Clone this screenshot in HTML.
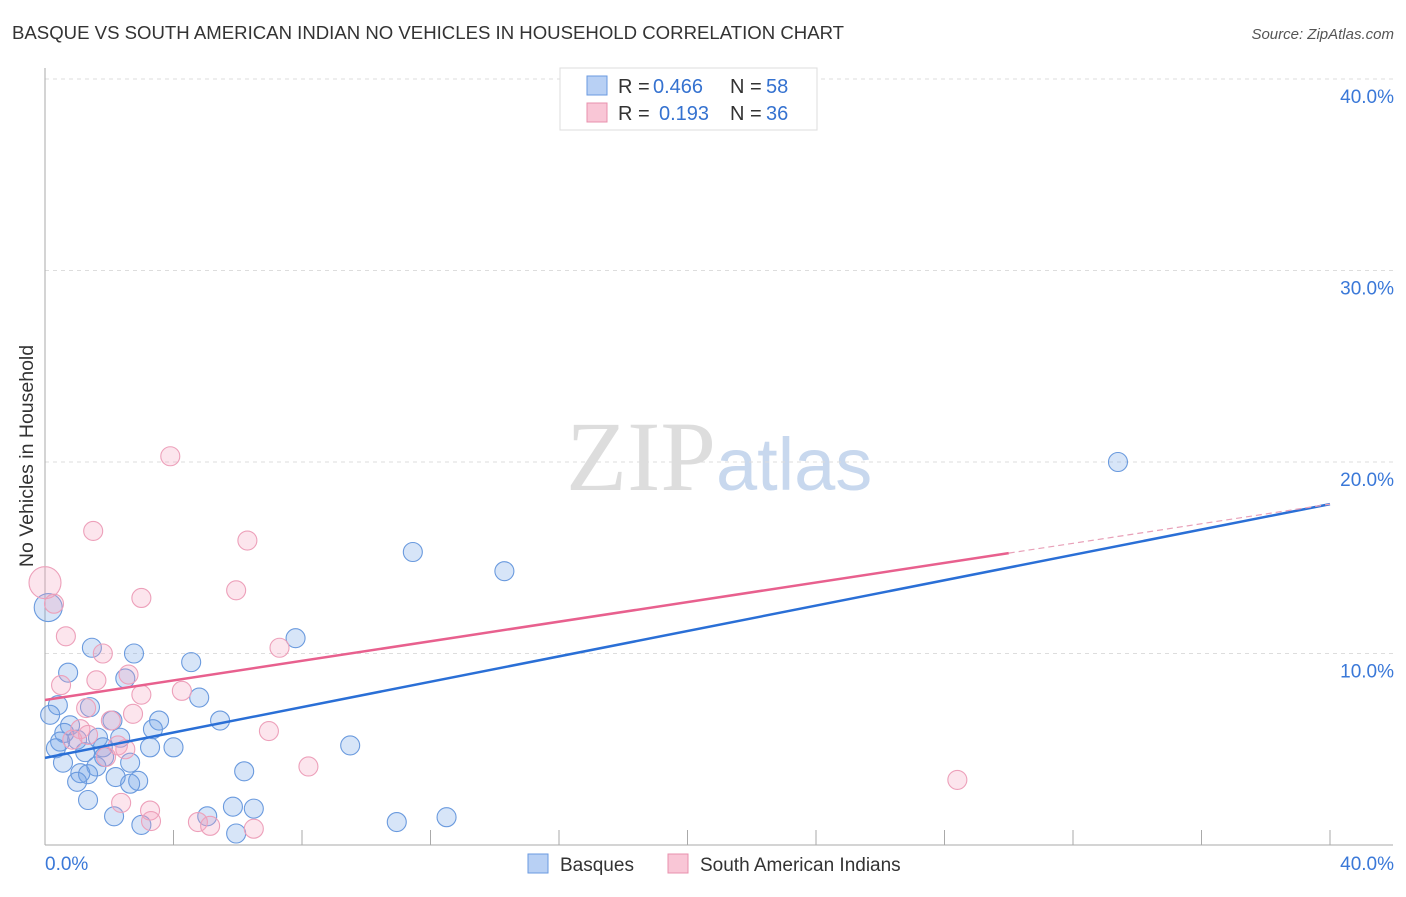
<!DOCTYPE html>
<html><head><meta charset="utf-8"><style>
body{margin:0;background:#fff;font-family:"Liberation Sans",sans-serif}
</style></head><body>
<svg width="1406" height="892" xmlns="http://www.w3.org/2000/svg" font-family="Liberation Sans, sans-serif">
<text x="12" y="39" font-size="18.6" fill="#333">BASQUE VS SOUTH AMERICAN INDIAN NO VEHICLES IN HOUSEHOLD CORRELATION CHART</text>
<text x="1394" y="39" font-size="15" fill="#555" font-style="italic" text-anchor="end">Source: ZipAtlas.com</text>
<text x="716" y="490" font-size="100" fill="#ddd" text-anchor="end" font-family="Liberation Serif, serif">ZIP</text>
<text x="716" y="490" font-size="74" fill="#c8d8ee">atlas</text>
<g id="grid"></g><g id="pts"></g><g id="lines"></g>
<text x="33" y="456" font-size="19.5" fill="#333" transform="rotate(-90 33 456)" text-anchor="middle">No Vehicles in Household</text>
<g>
<rect x="560" y="68" width="257" height="62" fill="#fff" stroke="#ddd"/>
<rect x="587" y="76" width="20" height="19" fill="#b8d0f4" stroke="#6a9ae0"/>
<rect x="587" y="103" width="20" height="19" fill="#f9c6d6" stroke="#e890ad"/>
<text x="618" y="93" font-size="20" fill="#333">R =</text><text x="653" y="93" font-size="20" fill="#3572d0">0.466</text>
<text x="730" y="93" font-size="20" fill="#333">N =</text><text x="766" y="93" font-size="20" fill="#3572d0">58</text>
<text x="618" y="120" font-size="20" fill="#333">R =</text><text x="659" y="120" font-size="20" fill="#3572d0">0.193</text>
<text x="730" y="120" font-size="20" fill="#333">N =</text><text x="766" y="120" font-size="20" fill="#3572d0">36</text>
</g>
<g>
<rect x="528" y="854" width="20" height="19" fill="#b8d0f4" stroke="#6a9ae0"/>
<text x="560" y="871" font-size="19" fill="#333">Basques</text>
<rect x="668" y="854" width="20" height="19" fill="#f9c6d6" stroke="#e890ad"/>
<text x="700" y="871" font-size="19" fill="#333">South American Indians</text>
</g>
<text x="45" y="870" font-size="19" fill="#3a78d8">0.0%</text>
<text x="1394" y="870" font-size="19" fill="#3a78d8" text-anchor="end">40.0%</text>
</svg>
<script>
const yTicks=[10,20,30,40];
const yTickLabels=["10.0%","20.0%","30.0%","40.0%"];
const basqueX=[33.4,11.45,14.3,7.8,1.46,2.77,4.55,0.72,2.5,4.8,0.4,1.4,0.16,5.45,3.55,2.1,0.78,3.36,0.6,1.65,2.34,1.0,0.47,9.5,1.8,3.27,4.0,0.34,1.25,1.84,2.65,0.56,1.6,6.2,1.1,1.34,2.2,2.9,1.0,2.65,1.34,5.85,6.5,2.15,5.05,12.5,10.95,3.0,5.95,0.1];
const basqueY=[20.0,15.3,14.3,10.8,10.3,10.0,9.55,9.0,8.7,7.7,7.3,7.2,6.8,6.5,6.5,6.5,6.25,6.05,5.85,5.6,5.6,5.5,5.4,5.2,5.1,5.1,5.1,5.05,4.85,4.6,4.3,4.3,4.1,3.85,3.75,3.7,3.55,3.35,3.3,3.2,2.35,2.0,1.9,1.5,1.5,1.45,1.2,1.05,0.6,12.4];
const sainX=[3.9,1.5,6.3,0,5.95,3.0,0.28,0.65,7.3,1.8,2.6,1.6,0.5,4.26,3.0,1.28,2.74,2.05,1.1,6.97,1.34,2.27,2.5,1.9,8.2,28.4,2.37,3.27,4.76,3.3,5.14,6.5,0.85];
const sainY=[20.3,16.4,15.9,13.7,13.3,12.9,12.6,10.9,10.3,10.0,8.9,8.6,8.35,8.05,7.85,7.15,6.85,6.5,6.05,5.95,5.75,5.2,5.0,4.6,4.1,3.4,2.2,1.8,1.2,1.25,1.0,0.85,5.5];
const blueTrend=[4.55,17.8];
const pinkTrend=[7.57,17.8];
const pinkSolidEnd=30;
const NS="http://www.w3.org/2000/svg";
const sx=v=>45+v/40*1285, sy=v=>845-v*19.15;
function mk(t,a,p){const e=document.createElementNS(NS,t);for(const k in a)e.setAttribute(k,a[k]);p.appendChild(e);return e;}
const grid=document.getElementById('grid');
yTicks.forEach((t,i)=>{
 const l=mk('line',{x1:45,x2:1393,y1:sy(t),y2:sy(t),stroke:'#ddd','stroke-dasharray':'4,4'},grid);
 
 
 const tx=mk('text',{x:1394,y:sy(t)+24,'font-size':19,fill:'#3a78d8','text-anchor':'end'},grid);
 tx.textContent=yTickLabels[i];
 
 
});
const ax=mk('line',{x1:45,x2:45,y1:68,y2:845,stroke:'#aaa'},grid);


const bx=mk('line',{x1:45,x2:1393,y1:845,y2:845,stroke:'#aaa'},grid);


for(let i=1;i<=10;i++){const t=mk('line',{x1:sx(i*4),x2:sx(i*4),y1:830,y2:845,stroke:'#aaa'},grid);
 
 }
const pts=document.getElementById('pts');
basqueX.forEach((x,i)=>{const c=mk('circle',{cx:sx(x),cy:sy(basqueY[i]),r:i==basqueX.length-1?14:9.5,fill:'rgba(110,160,230,0.28)',stroke:'#6a9ade','stroke-width':1.1},pts);
 
 });
sainX.forEach((x,i)=>{const c=mk('circle',{cx:sx(x),cy:sy(sainY[i]),r:i==3?16:9.5,fill:'rgba(245,160,190,0.28)',stroke:'#eda0ba','stroke-width':1.1},pts);
 
 });
const ln=document.getElementById('lines');
const b=mk('line',{x1:sx(0),y1:sy(blueTrend[0]),x2:sx(40),y2:sy(blueTrend[1]),stroke:'#2a6fd6','stroke-width':2.5},ln);


const pe=pinkTrend[0]+(pinkTrend[1]-pinkTrend[0])*pinkSolidEnd/40;
const p=mk('line',{x1:sx(0),y1:sy(pinkTrend[0]),x2:sx(pinkSolidEnd),y2:sy(pe),stroke:'#e8608e','stroke-width':2.5},ln);


const pd=mk('line',{x1:sx(pinkSolidEnd),y1:sy(pe),x2:sx(40),y2:sy(pinkTrend[1]),stroke:'#e8a0b8','stroke-width':1.2,'stroke-dasharray':'6,4'},ln);


</script>
</body></html>
